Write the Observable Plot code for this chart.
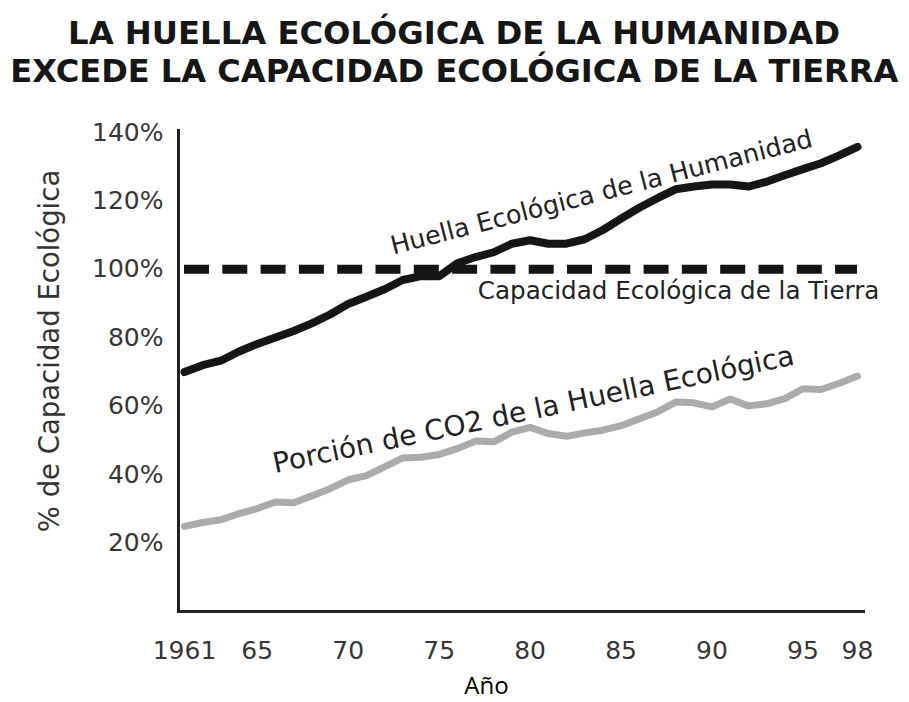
<!DOCTYPE html>
<html><head><meta charset="utf-8">
<script src="https://cdn.jsdelivr.net/npm/d3@7"></script>
<script src="https://cdn.jsdelivr.net/npm/@observablehq/plot@0.6"></script>
<style>
html,body{margin:0;padding:0;background:#fff;}
#wrap{width:909px;height:702px;position:relative;overflow:hidden;background:#fff;}
#title{position:relative;height:100px;width:909px;font-family:"DejaVu Sans Condensed","DejaVu Sans",sans-serif;font-weight:bold;font-size:31.5px;color:#161616;}
#title .l{position:absolute;left:0;width:909px;text-align:center;white-space:nowrap;line-height:30px;height:30px;}
#title .l span{display:inline-block;transform-origin:center center;line-height:30px;height:30px;}
#chart svg{display:block;}
</style></head>
<body>
<div id="wrap">
  <div id="title">
    <div class="l" style="top:18px"><span data-w="772">LA HUELLA ECOLÓGICA DE LA HUMANIDAD</span></div>
    <div class="l" style="top:55.5px"><span data-w="888">EXCEDE LA CAPACIDAD ECOLÓGICA DE LA TIERRA</span></div>
  </div>
  <div id="chart"></div>
</div>
<script>
// ---- data ----
const years = [1961,1962,1963,1964,1965,1966,1967,1968,1969,1970,1971,1972,1973,1974,1975,1976,1977,1978,1979,1980,1981,1982,1983,1984,1985,1986,1987,1988,1989,1990,1991,1992,1993,1994,1995,1996,1997,1998];
const huella = [70,72,73.3,76,78.2,80.1,82,84.2,86.8,89.9,92,94.2,96.9,98,98,101.8,103.6,105,107.5,108.5,107.5,107.5,108.8,111.5,114.8,118,120.8,123.4,124.2,124.8,124.8,124.2,125.6,127.5,129.3,131,133.3,135.8];
const co2 = [24.9,26,26.8,28.6,30.1,32,31.8,33.8,35.9,38.5,39.7,42.3,44.9,45.1,45.9,47.6,49.8,49.6,52.4,53.8,52,51.2,52.2,53,54.3,56.3,58.3,61.2,61,59.8,62.1,60.1,60.7,62.2,65.1,64.9,66.7,68.8];
const capacidad = 100;
const yTicks = [20,40,60,80,100,120,140];
const xTicks = [1961,1965,1970,1975,1980,1985,1990,1995,1998];
const xTickLabels = ["1961","65","70","75","80","85","90","95","98"];
const labelHuella = "Huella Ecológica de la Humanidad";
const labelCapacidad = "Capacidad Ecológica de la Tierra";
const labelCO2 = "Porción de CO2 de la Huella Ecológica";
const yTitle = "% de Capacidad Ecológica";
const xTitle = "Año";

const data = years.map((year, i) => ({year, huella: huella[i], co2: co2[i]}));
const at = (y) => data.filter(d => d.year === y);

const chart = Plot.plot({
  width: 909,
  height: 602,
  marginLeft: 178,
  marginRight: 46,
  marginTop: 30,
  marginBottom: 91,
  style: {fontFamily: "DejaVu Sans, sans-serif", background: "white", color: "#363636", overflow: "visible"},
  x: {domain: [1961, 1998], insetLeft: 6, insetRight: 6},
  y: {domain: [0, 140], insetTop: 2},
  marks: [
    Plot.axisY(yTicks, {tickSize: 0, tickPadding: 15, tickFormat: d => d + "%", fontSize: 25, label: null}),
    Plot.axisX(xTicks, {tickSize: 0, tickPadding: 30, tickFormat: d => xTickLabels[xTicks.indexOf(d)], fontSize: 25, label: null}),
    Plot.frame({anchor: "left", stroke: "#222", strokeWidth: 3}),
    Plot.frame({anchor: "bottom", stroke: "#222", strokeWidth: 3}),
    Plot.ruleY([capacidad], {x1: d3.min(years), x2: d3.max(years), stroke: "#141414", strokeWidth: 9, strokeDasharray: "25,13.3"}),
    Plot.lineY(data, {x: "year", y: "co2", stroke: "#ababab", strokeWidth: 7, strokeLinejoin: "round"}),
    Plot.lineY(data, {x: "year", y: "huella", stroke: "#151515", strokeWidth: 8, strokeLinejoin: "round"}),
    Plot.text(at(1984), {x: "year", y: "huella", text: () => labelHuella, rotate: -14.4, dx: -1.4, dy: -37.5, fontSize: 25.4, fill: "#222"}),
    Plot.text([capacidad], {x: () => 1988, y: d => d, text: () => labelCapacidad, dx: 3, dy: 21.7, fontSize: 24.6, fill: "#222"}),
    Plot.text(at(1980), {x: "year", y: "co2", text: () => labelCO2, rotate: -11.8, dx: 3.4, dy: -17.5, fontSize: 28, fill: "#222"}),
    Plot.text([yTitle], {frameAnchor: "left", textAnchor: "middle", lineAnchor: "middle", rotate: -90, dx: -128, dy: -20, fontSize: 27.5, fill: "#333"}),
    Plot.text([xTitle], {frameAnchor: "bottom", textAnchor: "middle", lineAnchor: "middle", dx: -34.5, dy: 75, fontSize: 24, fill: "#000", fontFamily: "Open Sans, sans-serif"})
  ]
});
document.getElementById("chart").appendChild(chart);

document.querySelectorAll("#title span").forEach(s => {
  const w = s.getBoundingClientRect().width;
  const target = +s.dataset.w;
  s.style.transform = `scaleX(${target / w})`;
});
</script>
</body></html>
